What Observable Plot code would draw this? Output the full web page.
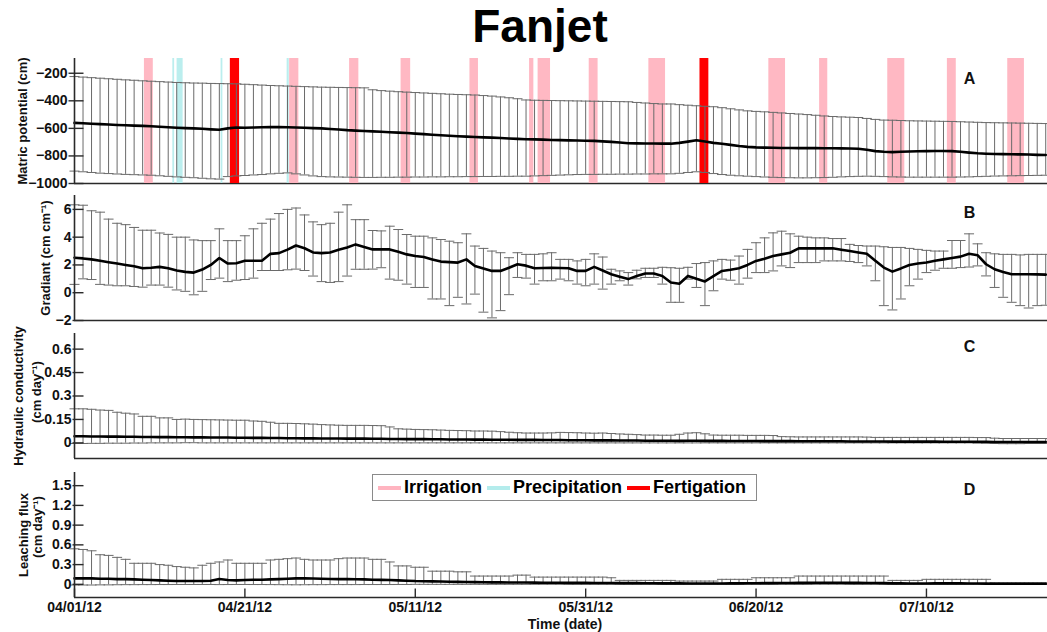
<!DOCTYPE html>
<html><head><meta charset="utf-8">
<script src="https://cdn.jsdelivr.net/npm/d3@7"></script>
<script src="https://cdn.jsdelivr.net/npm/@observablehq/plot@0.6"></script>
<style>
body{margin:0;background:#fff;font-family:"Liberation Sans",Arial,sans-serif;}
#chart{position:relative;width:1047px;height:632px;overflow:hidden;background:#fff;}
#title{position:absolute;top:0;left:0;width:1080px;text-align:center;font-weight:bold;font-size:46px;line-height:53px;}
#legend{position:absolute;left:372px;top:474px;width:383px;height:25px;border:1px solid #8a8a8a;background:#fff;display:flex;align-items:center;font-weight:bold;font-size:18px;white-space:nowrap;}
#legend .sw{display:inline-block;width:23px;height:4px;margin:0 3px 0 5px;}
</style></head><body>
<div id="chart"><div id="title">Fanjet</div></div>
<script>
// ---------- data ----------
const startDate = "2012-04-01";
const endDate = "2012-07-24T05:00Z";
const xTickLabels = ["04/01/12","04/21/12","05/11/12","05/31/12","06/20/12","07/10/12"];

// A: matric potential (cm)
const matricMean = [-560,-563,-566,-569,-572,-575,-577,-580,-582,-585,
 -588,-592,-595,-598,-600,-603,-607,-610,-600,-594,
 -596,-594,-592,-591,-590,-592,-594,-596,-598,-600,
 -604,-608,-613,-616,-619,-622,-625,-628,-631,-634,
 -638,-642,-646,-650,-654,-657,-660,-663,-665,-667,
 -670,-673,-676,-679,-680,-682,-684,-685,-687,-688,
 -690,-691,-694,-698,-703,-708,-709,-710,-710,-711,
 -711,-705,-696,-686,-695,-705,-712,-720,-728,-734,
 -738,-740,-741,-742,-742,-743,-743,-743,-744,-744,
 -745,-746,-748,-755,-765,-770,-772,-770,-768,-766,
 -765,-764,-764,-765,-770,-776,-781,-784,-786,-787,
 -788,-789,-790,-792,-793];
const matricHi = [-224,-228,-232,-236,-240,-244,-248,-251,-255,-258,
 -261,-264,-267,-269,-271,-272,-274,-275,-276,-277,
 -280,-283,-286,-289,-291,-293,-295,-297,-299,-301,
 -302,-303,-304,-305,-306,-320,-326,-330,-334,-337,
 -340,-343,-346,-349,-352,-354,-356,-358,-362,-366,
 -372,-378,-385,-394,-396,-397,-398,-399,-400,-401,
 -402,-403,-404,-405,-406,-407,-412,-416,-420,-423,
 -423,-428,-432,-436,-440,-443,-450,-458,-466,-473,
 -477,-480,-484,-488,-492,-496,-500,-505,-510,-514,
 -517,-519,-521,-528,-535,-540,-541,-543,-545,-546,
 -547,-548,-549,-550,-552,-554,-556,-558,-559,-560,
 -561,-562,-563,-564,-565];
const matricLo = [-910,-915,-920,-925,-928,-931,-934,-936,-938,-940,
 -944,-948,-952,-955,-958,-962,-966,-968,-950,-945,
 -942,-938,-935,-930,-926,-923,-930,-938,-945,-950,
 -952,-953,-954,-955,-956,-956,-955,-955,-954,-954,
 -953,-953,-952,-952,-951,-951,-950,-950,-949,-949,
 -948,-948,-947,-947,-945,-943,-941,-939,-937,-935,
 -934,-934,-933,-933,-932,-932,-931,-931,-930,-930,
 -930,-926,-920,-915,-920,-928,-935,-940,-944,-947,
 -950,-953,-955,-957,-958,-959,-959,-958,-957,-955,
 -952,-950,-948,-947,-948,-950,-952,-953,-954,-954,
 -954,-954,-954,-954,-953,-952,-950,-948,-946,-945,
 -944,-943,-942,-941,-940];

// B: gradient (cm cm-1)
const gradMean = [2.52,2.47,2.4,2.3,2.2,2.1,2.0,1.9,1.76,1.8,
 1.86,1.76,1.6,1.5,1.45,1.67,2.0,2.5,2.1,2.12,
 2.3,2.3,2.3,2.8,2.85,3.1,3.4,3.2,2.9,2.85,
 2.9,3.1,3.25,3.48,3.3,3.12,3.12,3.12,2.95,2.76,
 2.65,2.57,2.4,2.24,2.2,2.17,2.4,1.93,1.75,1.57,
 1.57,1.8,2.05,1.95,1.76,1.78,1.8,1.78,1.76,1.57,
 1.57,1.86,1.6,1.33,1.15,0.98,1.2,1.38,1.38,1.21,
 0.74,0.65,1.21,1.0,0.81,1.2,1.57,1.65,1.76,2.0,
 2.29,2.45,2.64,2.76,2.88,3.19,3.19,3.19,3.19,3.2,
 3.1,3.0,2.9,2.81,2.3,1.81,1.52,1.75,2.0,2.1,
 2.17,2.3,2.4,2.5,2.6,2.81,2.7,2.05,1.69,1.5,
 1.33,1.33,1.33,1.32,1.3];
const gradHi = [6.33,6.3,5.9,5.8,5.3,5.0,4.9,4.7,4.5,4.5,
 4.3,4.2,4.0,4.0,3.8,3.75,3.75,4.6,3.75,3.75,
 4.1,4.6,5.0,5.3,5.7,6.0,6.1,5.6,5.1,4.9,
 5.0,5.8,6.33,5.26,5.26,4.48,4.45,4.79,4.55,4.19,
 4.07,4.07,3.95,3.83,3.71,3.6,4.24,3.36,3.19,3.0,
 2.88,2.52,2.88,2.76,2.76,2.8,2.88,2.4,2.4,2.29,
 2.4,2.8,2.57,1.69,1.57,1.45,1.62,1.76,1.76,1.83,
 1.8,1.76,1.83,2.1,2.17,2.29,2.4,2.35,2.64,3.12,
 3.6,3.95,4.31,4.43,4.24,4.07,4.0,3.95,3.95,3.9,
 3.9,3.48,3.4,3.36,3.36,3.31,3.26,3.26,3.19,3.12,
 3.05,3.0,3.0,3.76,3.76,4.24,3.52,2.88,2.8,2.76,
 2.76,2.72,2.76,2.76,2.76];
const gradLo = [0.6,1.0,0.95,0.6,0.55,0.5,0.5,0.45,0.4,0.55,
 0.55,0.4,0.2,0.1,-0.15,0.1,0.95,1.05,0.8,0.9,
 0.95,1.05,1.6,1.6,1.6,1.65,1.7,1.6,1.2,0.8,
 0.74,0.8,1.2,1.69,1.69,1.7,1.8,0.98,0.9,0.62,
 0.38,0.38,-0.45,-0.45,-0.93,-0.33,-0.81,-0.1,-1.4,-1.81,
 -1.29,-0.14,1.1,1.05,0.62,0.86,0.86,0.98,0.86,0.62,
 0.5,0.62,0.26,0.62,0.86,0.55,1.0,1.1,1.1,0.62,
 -0.69,-0.69,0.98,0.38,-0.93,0.14,0.98,0.9,0.62,1.05,
 1.45,1.45,1.57,1.93,1.81,2.17,2.17,2.17,2.29,2.29,
 2.29,2.25,2.17,1.93,0.86,-0.93,-1.24,-0.45,0.5,0.98,
 1.45,1.62,1.76,1.76,1.81,1.85,1.93,1.21,0.38,-0.33,
 -0.69,-0.93,-1.1,-0.93,-0.9];

// C: hydraulic conductivity (cm day-1)
const condMean = [0.042,0.042,0.041,0.041,0.040,0.040,0.039,0.039,0.038,0.038,
 0.037,0.037,0.036,0.036,0.035,0.035,0.034,0.034,0.034,0.033,
 0.033,0.032,0.032,0.031,0.031,0.030,0.030,0.029,0.029,0.028,
 0.028,0.028,0.027,0.027,0.027,0.026,0.026,0.025,0.025,0.024,
 0.024,0.024,0.023,0.023,0.022,0.022,0.022,0.021,0.021,0.020,
 0.020,0.020,0.019,0.019,0.019,0.018,0.018,0.018,0.017,0.017,
 0.017,0.016,0.016,0.016,0.015,0.015,0.015,0.014,0.014,0.014,
 0.014,0.013,0.014,0.014,0.013,0.013,0.013,0.012,0.012,0.012,
 0.012,0.011,0.011,0.011,0.011,0.010,0.010,0.010,0.010,0.010,
 0.010,0.009,0.009,0.009,0.009,0.009,0.008,0.008,0.008,0.008,
 0.008,0.008,0.007,0.007,0.007,0.007,0.007,0.007,0.006,0.006,
 0.006,0.006,0.006,0.006,0.006];
const condHi = [0.218,0.218,0.215,0.21,0.208,0.196,0.19,0.185,0.17,0.17,
 0.16,0.16,0.15,0.152,0.15,0.149,0.148,0.147,0.146,0.145,
 0.145,0.14,0.138,0.132,0.125,0.125,0.124,0.122,0.12,0.117,
 0.115,0.113,0.112,0.112,0.112,0.111,0.11,0.102,0.09,0.088,
 0.086,0.085,0.084,0.082,0.08,0.079,0.078,0.076,0.076,0.075,
 0.072,0.068,0.065,0.063,0.063,0.063,0.064,0.067,0.066,0.065,
 0.063,0.062,0.063,0.06,0.057,0.055,0.053,0.05,0.05,0.049,
 0.049,0.055,0.063,0.065,0.058,0.05,0.049,0.049,0.049,0.048,
 0.048,0.048,0.047,0.04,0.039,0.038,0.038,0.038,0.038,0.038,
 0.038,0.038,0.038,0.037,0.035,0.035,0.035,0.035,0.035,0.035,
 0.035,0.035,0.035,0.035,0.035,0.035,0.034,0.034,0.03,0.028,
 0.028,0.028,0.028,0.028,0.028];
const condLo = [-0.004,-0.004,-0.003,-0.003,-0.002,-0.002,-0.002,-0.001,-0.001,0,
 0,0,0,0.001,0.001,0,0,0,0,0,
 0,0,0,0,0,0,0,0,0,0,
 0,0,0,0,0,0,0,0,0,0,
 0,0,0,0,0,0,0,0,0,0,
 0,0,0,0,0,0,0,0,0,0,
 0,0,0,0,0,0,0,0,0,0,
 0,0,0,0,0,0,0,0,0,0,
 0,0,0,0,0,0,0,0,0,0,
 0,0,0,0,0,0,0,0,0,0,
 0,0,0,0,0,0,-0.002,-0.003,-0.004,-0.005,
 -0.005,-0.005,-0.004,-0.004,-0.004];

// D: leaching flux (cm day-1)
const fluxMean = [0.09,0.09,0.09,0.085,0.085,0.08,0.08,0.075,0.07,0.065,
 0.06,0.055,0.05,0.05,0.05,0.05,0.055,0.08,0.065,0.06,
 0.065,0.07,0.07,0.075,0.08,0.085,0.09,0.09,0.088,0.085,
 0.082,0.08,0.08,0.078,0.075,0.07,0.068,0.065,0.06,0.055,
 0.05,0.048,0.045,0.043,0.04,0.038,0.036,0.034,0.032,0.03,
 0.03,0.028,0.028,0.027,0.026,0.025,0.024,0.024,0.023,0.022,
 0.022,0.021,0.02,0.02,0.019,0.018,0.018,0.017,0.016,0.015,
 0.015,0.014,0.013,0.012,0.012,0.012,0.013,0.014,0.015,0.016,
 0.017,0.018,0.019,0.02,0.021,0.022,0.023,0.024,0.024,0.024,
 0.024,0.023,0.022,0.021,0.02,0.018,0.015,0.014,0.013,0.013,
 0.013,0.014,0.014,0.014,0.014,0.013,0.012,0.011,0.01,0.009,
 0.008,0.008,0.008,0.008,0.008];
const fluxHi = [0.54,0.53,0.51,0.45,0.44,0.41,0.38,0.32,0.32,0.32,
 0.3,0.29,0.27,0.26,0.25,0.29,0.32,0.34,0.37,0.32,
 0.32,0.32,0.32,0.37,0.38,0.39,0.4,0.38,0.37,0.37,
 0.37,0.39,0.4,0.4,0.4,0.38,0.38,0.34,0.28,0.28,
 0.26,0.26,0.2,0.2,0.2,0.19,0.19,0.126,0.126,0.126,
 0.126,0.126,0.14,0.14,0.11,0.11,0.11,0.11,0.11,0.11,
 0.11,0.11,0.11,0.1,0.06,0.06,0.06,0.06,0.06,0.06,
 0.06,0.05,0.05,0.05,0.05,0.05,0.076,0.076,0.076,0.076,
 0.1,0.1,0.1,0.1,0.1,0.126,0.126,0.126,0.126,0.126,
 0.126,0.126,0.126,0.126,0.126,0.126,0.06,0.06,0.06,0.06,
 0.076,0.076,0.076,0.076,0.076,0.076,0.076,0.076,0.025,0.025,
 0.025,0.025,0.025,0.025,0.025];
const fluxLo = [-0.01,-0.01,-0.01,-0.008,-0.008,-0.006,-0.005,-0.005,-0.004,-0.004,
 -0.003,-0.003,-0.002,-0.002,-0.002,-0.002,-0.002,-0.004,-0.003,-0.002,
 -0.002,-0.003,-0.003,-0.004,-0.005,-0.006,-0.007,-0.006,-0.005,-0.005,
 -0.004,-0.004,-0.004,-0.004,-0.003,-0.003,-0.003,-0.003,-0.002,-0.002,
 0,0,0,0,0,0,0,0,0,0,
 0,0,0,0,0,0,0,0,0,0,
 0,0,0,0,0,0,0,0,0,0,
 0,0,0,0,0,0,0,0,0,0,
 0,0,0,0,0,0,0,0,0,0,
 0,0,0,0,0,0,0,0,0,0,
 0,0,0,0,0,0,0,0,0,0,
 0,0,0,0,0];

// event bands in panel A (start, end)
const irrigationStart = ["2012-04-09T05:00Z","2012-04-26T06:00Z","2012-05-03T07:00Z","2012-05-09T08:00Z","2012-05-17T10:00Z","2012-05-24T10:00Z","2012-05-25T10:00Z","2012-05-31T10:00Z","2012-06-07T10:00Z","2012-06-21T12:00Z","2012-06-27T11:00Z","2012-07-05T11:00Z","2012-07-12T11:00Z","2012-07-19T13:00Z"];
const irrigationEnd   = ["2012-04-10T06:00Z","2012-04-27T08:00Z","2012-05-04T09:00Z","2012-05-10T11:00Z","2012-05-18T10:00Z","2012-05-24T22:00Z","2012-05-26T21:00Z","2012-06-01T11:00Z","2012-06-09T09:00Z","2012-06-23T11:00Z","2012-06-28T10:00Z","2012-07-07T11:00Z","2012-07-13T12:00Z","2012-07-21T12:00Z"];
const precipStart = ["2012-04-12T13:00Z","2012-04-13T01:00Z","2012-04-18T05:00Z","2012-04-25T23:00Z"];
const precipEnd   = ["2012-04-12T18:00Z","2012-04-13T18:00Z","2012-04-18T10:00Z","2012-04-26T05:00Z"];
const fertigationStart = ["2012-04-19T07:00Z","2012-06-13T10:00Z"];
const fertigationEnd   = ["2012-04-20T09:00Z","2012-06-14T11:00Z"];

const legendItems = ["Irrigation","Precipitation","Fertigation"];
const legendColors = ["#ffb4c0","#b4ecec","#ff0000"];
const panelLetters = ["A","B","C","D"];

// ---------- build ----------
const chart = document.getElementById("chart");
const x0 = new Date(startDate + "T00:00Z");
const xDomain = [x0, new Date(endDate)];
const dates = matricMean.map((_, i) => d3.utcDay.offset(x0, i));
const parseTick = d3.utcParse("%m/%d/%y");
const xTicks = xTickLabels.map(parseTick);
const toBands = (s, e) => s.map((v, i) => ({start: new Date(v), end: new Date(e[i])}));

const capSym = {draw(ctx){ctx.moveTo(-5,0); ctx.lineTo(5,0);}};
const yTickSymOut = {draw(ctx){ctx.moveTo(-6,0); ctx.lineTo(9,0);}};
const yTickSymIn = {draw(ctx){ctx.moveTo(-2,0); ctx.lineTo(9,0);}};
const xTickSym = {draw(ctx){ctx.moveTo(0,0); ctx.lineTo(0,-9);}};
const fmt = d => d < 0 ? "\u2212" + Math.abs(d) : String(d);
const axisColor = "#2a2a2a";
const barColor = "#6a6a6a";

function panel(o) {
  const data = dates.map((d, i) => ({date: d, m: o.mean[i], hi: o.hi[i], lo: o.lo[i]}));
  const marks = [];
  marks.push(Plot.ruleY([o.domain[0]], {stroke: axisColor, strokeWidth: 1.6}));
  if (o.bands) {
    marks.push(Plot.rect(toBands(irrigationStart, irrigationEnd), {x1: "start", x2: "end", fill: legendColors[0], fillOpacity: 0.95}));
    marks.push(Plot.rect(toBands(precipStart, precipEnd), {x1: "start", x2: "end", fill: legendColors[1], fillOpacity: 0.9}));
    marks.push(Plot.rect(toBands(fertigationStart, fertigationEnd), {x1: "start", x2: "end", fill: legendColors[2]}));
  }
  marks.push(Plot.ruleX(data, {x: "date", y1: "lo", y2: "hi", stroke: barColor, strokeWidth: 1}));
  marks.push(Plot.dot(data, {x: "date", y: "hi", symbol: capSym, fill: "none", stroke: barColor, strokeWidth: 1}));
  marks.push(Plot.dot(data, {x: "date", y: "lo", symbol: capSym, fill: "none", stroke: barColor, strokeWidth: 1}));
  marks.push(Plot.line(data, {x: "date", y: "m", stroke: "#000", strokeWidth: 2.6}));
  marks.push(Plot.ruleX([x0], {stroke: axisColor, strokeWidth: 1.6}));
  marks.push(Plot.dot(o.ticks, {y: d => d, frameAnchor: "left", symbol: o.tickOut ? yTickSymOut : yTickSymIn, fill: "none", stroke: axisColor, strokeWidth: 1.4}));
  marks.push(Plot.axisY({ticks: o.ticks, tickSize: 0, tickPadding: o.tickPad, tickFormat: fmt, label: null, fontSize: 14, fontWeight: "bold"}));
  o.labels.forEach(l => marks.push(Plot.text([l.text], {text: d => d, frameAnchor: "left", dx: l.dx, dy: l.dy || 0, rotate: -90, textAnchor: "middle", lineAnchor: "middle", fontSize: 13, fontWeight: "bold"})));
  marks.push(Plot.text([o.letter], {text: d => d, frameAnchor: "top-right", dx: -78, dy: o.letterDy, textAnchor: "middle", lineAnchor: "middle", fontSize: 16, fontWeight: "bold"}));
  if (o.xaxis) {
    marks.push(Plot.dot(xTicks, {x: d => d, frameAnchor: "bottom", symbol: xTickSym, fill: "none", stroke: axisColor, strokeWidth: 1.4}));
    marks.push(Plot.axisX({ticks: xTicks, tickSize: 0, tickPadding: 5, tickFormat: (d, i) => xTickLabels[i], label: null, fontSize: 14, fontWeight: "bold"}));
    marks.push(Plot.text(["Time (date)"], {text: d => d, frameAnchor: "bottom", dx: 4, dy: 27, fontSize: 14, fontWeight: "bold", lineAnchor: "middle"}));
  }
  const svg = Plot.plot({
    width: 1047, height: o.height,
    marginLeft: 74, marginRight: 0, marginTop: 8, marginBottom: o.height - 133,
    x: o.xaxis ? {type: "utc", domain: xDomain} : {type: "utc", domain: xDomain, axis: null},
    y: {domain: o.domain},
    style: {background: "transparent", overflow: "visible", fontFamily: "'Liberation Sans', Arial, sans-serif", fontSize: "14px", color: "#111"},
    marks
  });
  svg.style.position = "absolute";
  svg.style.left = "0px";
  svg.style.top = o.top + "px";
  chart.appendChild(svg);
}

panel({top: 50, height: 140, domain: [-1000, -93], ticks: [-1000,-800,-600,-400,-200], tickOut: true, tickPad: 7,
  mean: matricMean, hi: matricHi, lo: matricLo, bands: true, letter: panelLetters[0], letterDy: 20,
  labels: [{text: "Matric potential (cm)", dx: -52}]});
panel({top: 187, height: 140, domain: [-2, 7], ticks: [-2,0,2,4,6], tickPad: 3,
  mean: gradMean, hi: gradHi, lo: gradLo, letter: panelLetters[1], letterDy: 17,
  labels: [{text: "Gradiant (cm cm\u207B\u00B9)", dx: -29}]});
panel({top: 325, height: 140, domain: [-0.1, 0.7], ticks: [0,0.15,0.3,0.45,0.6], tickPad: 3,
  mean: condMean, hi: condHi, lo: condLo, letter: panelLetters[2], letterDy: 13,
  labels: [{text: "Hydraulic conductivity", dx: -56}, {text: "(cm day\u207B\u00B9)", dx: -38, dy: -4}]});
panel({top: 464, height: 168, domain: [-0.2, 1.7], ticks: [0,0.3,0.6,0.9,1.2,1.5], tickPad: 3,
  mean: fluxMean, hi: fluxHi, lo: fluxLo, letter: panelLetters[3], letterDy: 17, xaxis: true,
  labels: [{text: "Leaching flux", dx: -51}, {text: "(cm day\u207B\u00B9)", dx: -37, dy: -8}]});

// legend
const lg = document.createElement("div");
lg.id = "legend";
legendItems.forEach((t, i) => {
  const sw = document.createElement("span");
  sw.className = "sw";
  sw.style.background = legendColors[i];
  lg.appendChild(sw);
  lg.appendChild(document.createTextNode(t));
});
chart.appendChild(lg);
</script>
</body></html>
